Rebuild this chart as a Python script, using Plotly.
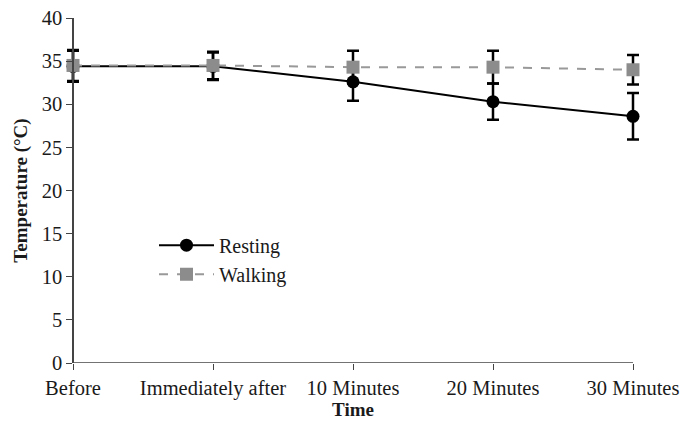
import plotly.graph_objects as go

categories = ["Before", "Immediately after", "10 Minutes", "20 Minutes", "30 Minutes"]
resting = [34.4, 34.4, 32.6, 30.3, 28.6]
resting_err = [1.8, 1.6, 2.2, 2.1, 2.7]
walking = [34.5, 34.5, 34.3, 34.3, 34.0]
walking_err = [1.8, 1.6, 1.9, 1.9, 1.7]
y_ticks = [0, 5, 10, 15, 20, 25, 30, 35, 40]

font_family = "Liberation Serif"
pad = 0.05  # extra category padding so error-bar caps at the ends are not clipped
pad_px = 7

fig = go.Figure()
fig.add_trace(go.Scatter(
    x=categories, y=resting, name="Resting", mode="lines+markers", cliponaxis=False,
    line=dict(color="black", width=2),
    marker=dict(symbol="circle", size=13, color="black"),
    error_y=dict(type="data", array=resting_err, visible=True, color="black", thickness=2.5, width=6),
))
fig.add_trace(go.Scatter(
    x=categories, y=walking, name="Walking", mode="lines+markers", cliponaxis=False,
    line=dict(color="#999999", width=2, dash="dash"),
    marker=dict(symbol="square", size=13, color="#8c8c8c"),
    error_y=dict(type="data", array=walking_err, visible=True, color="black", thickness=2.5, width=6),
))

# x axis baseline from first to last category
fig.add_shape(type="line", xref="x", yref="y", x0=0, x1=len(categories) - 1, y0=0, y1=0,
              line=dict(color="#444444", width=1.5), layer="above")

plot_w = 684 - 73 - 51 + 2 * pad_px
fig.update_layout(
    width=684, height=425,
    margin=dict(l=73 - pad_px, r=51 - pad_px, t=18, b=62),
    paper_bgcolor="white", plot_bgcolor="white",
    font=dict(family=font_family, size=20, color="#1a1a1a"),
    showlegend=True,
    legend=dict(x=(157 - 66 - 3) / plot_w, y=0.398, xanchor="left", yanchor="top",
                traceorder="normal", itemwidth=55,
                font=dict(family=font_family, size=20, color="#1a1a1a"),
                bgcolor="rgba(0,0,0,0)", tracegroupgap=0),
    xaxis=dict(
        type="category", range=[-pad, len(categories) - 1 + pad], showline=False,
        ticks="outside", ticklen=6, tickcolor="#444444", showgrid=False, zeroline=False,
        automargin=False, tickfont=dict(size=20.5),
        title=dict(text="<b>Time</b>", font=dict(size=19), standoff=4),
    ),
    yaxis=dict(
        range=[0, 40], tickvals=y_ticks, showline=True, linecolor="#444444", linewidth=1.5,
        anchor="free", position=pad_px / plot_w,
        ticks="outside", ticklen=6, tickcolor="#444444", showgrid=False, zeroline=False,
        automargin=False, tickfont=dict(size=20.5),
        title=dict(text="<b>Temperature (°C)</b>", font=dict(size=19), standoff=8),
    ),
)

fig.write_html("out.html", config={"displayModeBar": False},
               post_script="document.body.style.margin='0';")
